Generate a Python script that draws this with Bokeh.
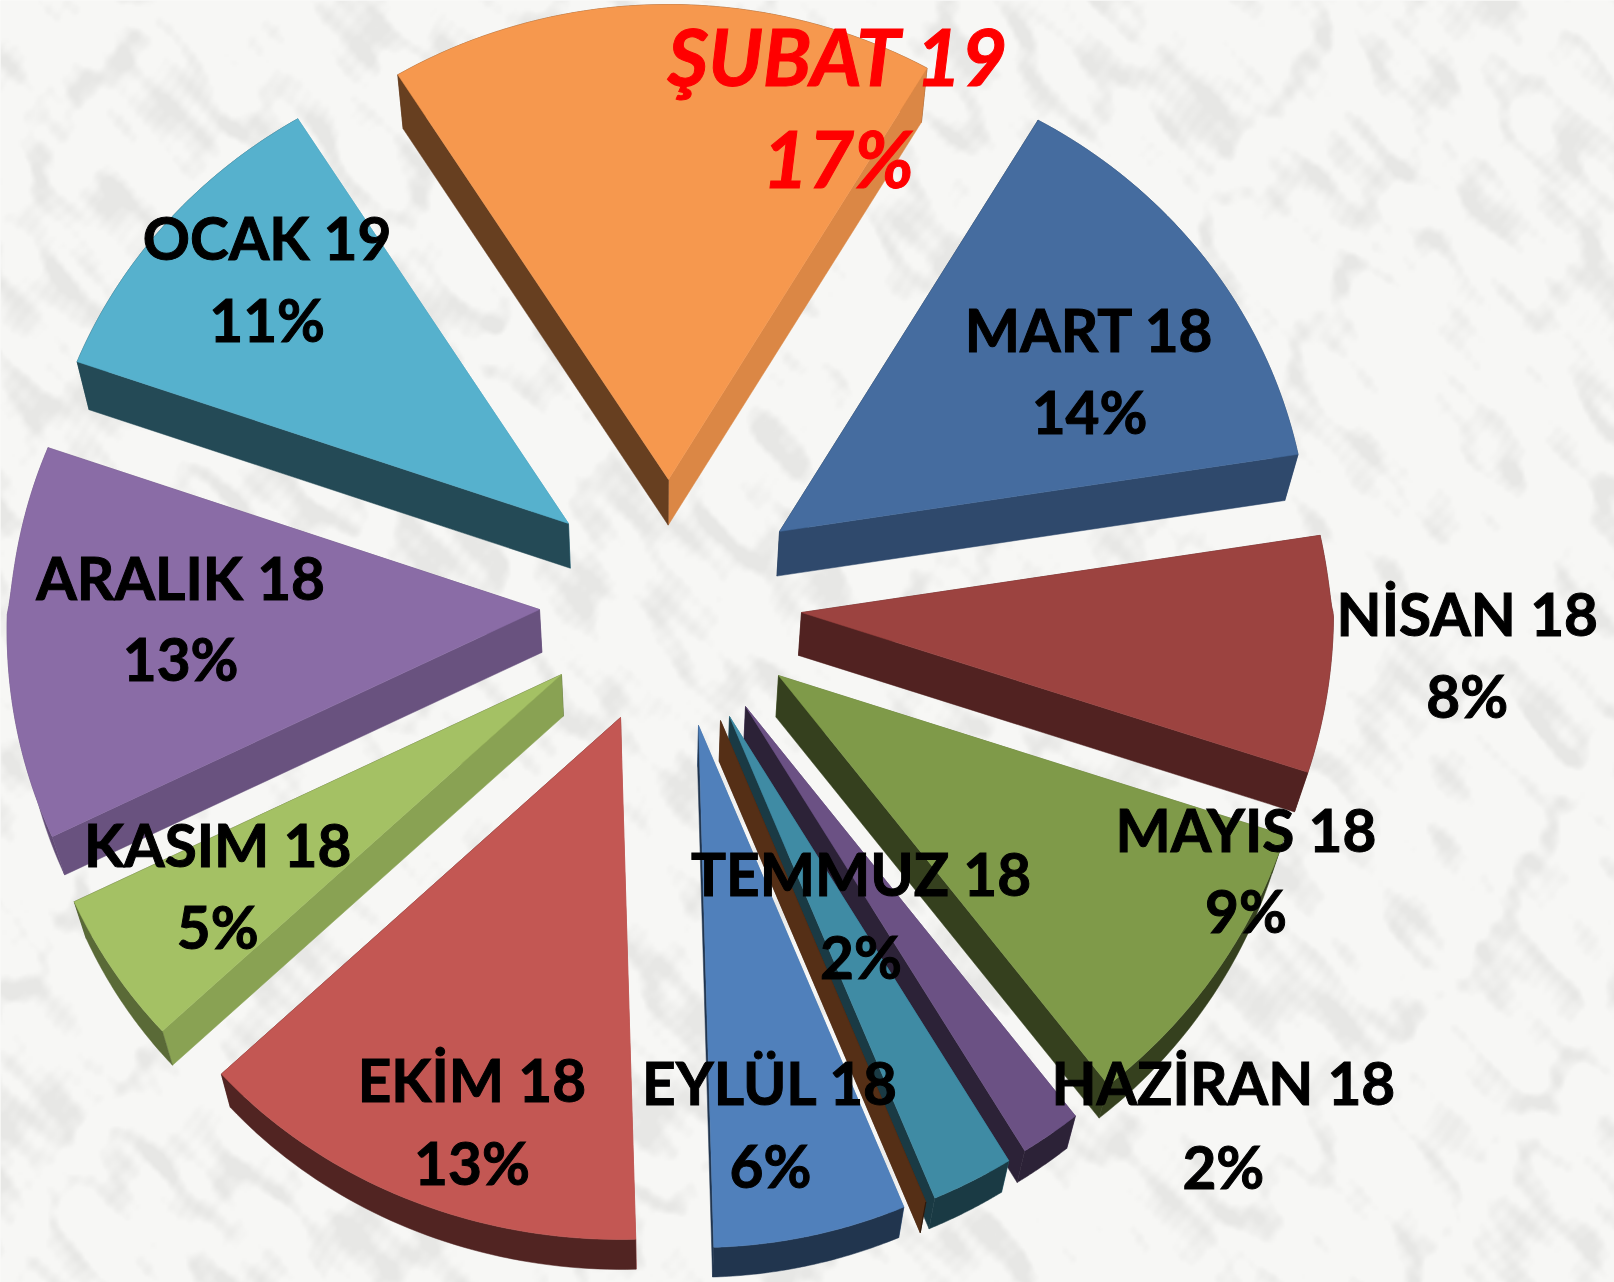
import numpy as np
from bokeh.plotting import figure
from bokeh.models import ColumnDataSource
from bokeh.embed import file_html
from bokeh.resources import INLINE
from bokeh.core.properties import value

# ---- chart data ----
months = ["MART 18", "NİSAN 18", "MAYIS 18", "HAZİRAN 18", "TEMMUZ 18", "AĞUSTOS 18",
          "EYLÜL 18", "EKİM 18", "KASIM 18", "ARALIK 18", "OCAK 19", "ŞUBAT 19"]
shares = [14.07, 7.55, 9.4, 1.85, 2.49, 0, 5.85, 13.49, 4.8, 12.7, 10.7, 17.1]
colors = ["#456c9f", "#9c4340", "#7f9a49", "#6b5184", "#3f8ba4", "#552f16",
          "#5080bb", "#c35753", "#a4c164", "#8a6ca6", "#56b1cd", "#f6984e"]

# ---- layout (page pixels) ----
apex_x = [779, 801, 778, 745, 729, 720, 698, 620, 561, 539, 568, 668]
apex_y = [531, 612, 675, 706, 716, 720, 725, 717, 674, 609, 523, 479]
rim_shade = [0.68, 0.5, 0.42, 0.42, 0.42, 0.42, 0.42, 0.42, 0.55, 0.72, 0.42, 0.42]
dark_shade = [0.42, 0.52, 0.42, 0.42, 0.42, 1.0, 0.42, 0.42, 0.42, 0.42, 0.42, 0.42]
S = 1614 / 1568
label_x = [1058, 1425, 1210, 1188, 836, None, 748, 458, 211, 175, 259, 814]
label_y = [319, 595, 805, 1051, 848, None, 1051, 1048, 819, 560, 230, 53]
pct_y = [399, 675, 884, 1132, 928, None, 1131, 1128, 899, 639, 309, 153]
START, RX, RY_TOP, RY_BOT = 30.0, 532.0, 475.0, 522.0
VP = (655.0, 2684.0)
K = 0.0207
W_PAGE, H_PAGE = 1614, 1282


def shade(hex_color, f):
    r, g, b = (int(hex_color[i:i + 2], 16) for i in (1, 3, 5))
    return "#%02x%02x%02x" % (int(r * f), int(g * f), int(b * f))


def extrude(xs, ys):
    xs, ys = np.asarray(xs, float), np.asarray(ys, float)
    return xs + K * (VP[0] - xs), ys + K * (VP[1] - ys)


def outer(cx, cy, a0, a1, n=48):
    t = np.radians(np.linspace(a0, a1, n))
    c, s = np.cos(t), np.sin(t)
    # the tilted pie is narrower at the back and wider at the front left
    fx = np.where(c > 0, 1 - 0.03 * np.sqrt(np.abs(c)), np.where(s < 0, 1 + 0.04 * np.abs(c), 1.0))
    return cx + RX * s * fx, cy - np.where(c > 0, RY_TOP, RY_BOT) * c


p = figure(width=W_PAGE, height=H_PAGE, x_range=(0, W_PAGE), y_range=(H_PAGE, 0),
           output_backend="svg", toolbar_location=None,
           x_axis_location=None, y_axis_location=None, min_border=0)
p.grid.visible = False
p.outline_line_color = None
p.background_fill_color = "#f6f6f4"

# marble backdrop: faint grey clouds on near-white
H, W = 641, 807
yy, xx = np.mgrid[0:H, 0:W]
xx = xx / W * 16.0
yy = yy / H * 13.0
warp = (np.sin(0.9 * xx + 0.5 * yy) + 0.7 * np.sin(1.7 * yy - 1.3 * xx + 1.0)
        + 0.5 * np.sin(3.1 * xx + 2.3 * yy + 2.0) + 0.35 * np.sin(6.7 * xx - 4.9 * yy + 0.5))
n = np.zeros_like(xx)
for fx_, fy_, ph, a in [(1.7, 2.3, 0.3, 1.0), (3.7, -2.9, 1.7, 0.8), (-6.1, 5.3, 2.9, 0.6),
                        (9.7, 7.1, 0.9, 0.45), (-13.3, 15.7, 4.1, 0.35), (23.1, -19.7, 5.3, 0.25),
                        (-37.3, -31.1, 1.1, 0.15)]:
    n += a * np.sin(fx_ * xx + fy_ * yy + ph + 2.6 * warp)
cloud = np.clip((n - 0.3) / 1.8, 0, 1)
g = 247 - 16 * cloud
img = np.zeros((H, W), dtype=np.uint32)
view = img.view(np.uint8).reshape((H, W, 4))
view[..., 0] = g.astype(np.uint8)
view[..., 1] = g.astype(np.uint8)
view[..., 2] = (g - 2).astype(np.uint8)
view[..., 3] = 255
p.image_rgba(image=[img], x=0, y=0, dw=W_PAGE, dh=H_PAGE)

# slices, back to front
edges = START + np.concatenate([[0], np.cumsum(shares)]) * 3.6
for i, name in enumerate(months):
    a0, a1 = edges[i], edges[i + 1]
    cx, cy, col = apex_x[i], apex_y[i], colors[i]
    walls = []
    ox, oy = outer(cx, cy, a0, a1)
    bx, by = extrude(ox, oy)
    walls.append((np.r_[ox, bx[::-1]], np.r_[oy, by[::-1]], shade(col, rim_shade[i])))
    for ex, ey, sign in ((ox[0], oy[0], -1), (ox[-1], oy[-1], 1)):
        qx0, qy0 = extrude([cx, ex], [cy, ey])
        L = np.hypot(ex - cx, ey - cy)
        nx = sign * (-(ey - cy)) / L
        f = 0.64 + 0.3 * nx if nx > 0 else dark_shade[i]
        walls.append(([cx, ex, qx0[1], qx0[0]], [cy, ey, qy0[1], qy0[0]], shade(col, f)))
    walls.sort(key=lambda w: np.mean(w[1]))
    for wx, wy, wc in walls:
        p.patch(list(wx), list(wy), fill_color=wc, line_color=wc, line_width=0.5)
    if shares[i] > 0:
        tx, ty = np.r_[cx, ox], np.r_[cy, oy]
        p.patch(list(tx), list(ty), fill_color=col, line_color=col, line_width=0.5)

# labels
rows = [i for i in range(len(months)) if label_x[i] is not None]
normal = [i for i in rows if months[i] != "ŞUBAT 19"]
hi = [i for i in rows if months[i] == "ŞUBAT 19"]
for idx, size, style, col in ((normal, "58.5px", "bold", "#000000"), (hi, "79px", "bold italic", "#ff0000")):
    xs = [label_x[i] * S for i in idx]
    src = ColumnDataSource(dict(x=xs + xs,
                                y=[label_y[i] * S for i in idx] + [pct_y[i] * S for i in idx],
                                t=[months[i] for i in idx] + ["%d%%" % round(shares[i]) for i in idx]))
    p.text("x", "y", text="t", source=src, text_align="center", text_baseline="middle",
           text_font=value("Lato"), text_font_size=value(size), text_font_style=style, text_color=col,
           text_outline_color=col)

open("out.html", "w").write(file_html(p, INLINE))
